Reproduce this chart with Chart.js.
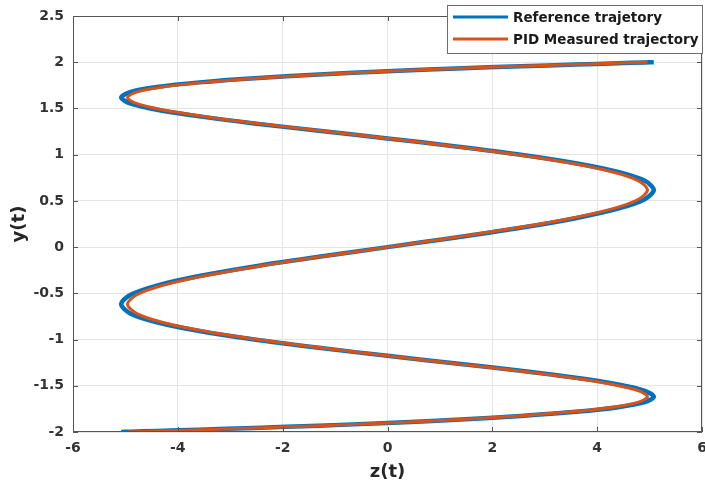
<!DOCTYPE html>
<html>
<head>
<meta charset="utf-8">
<script src="https://cdn.jsdelivr.net/npm/chart.js@4/dist/chart.umd.min.js"></script>
<style>
  html, body { margin: 0; padding: 0; background: #ffffff; }
  #wrap { width: 705px; height: 490px; }
</style>
</head>
<body>
<div id="wrap"><canvas id="c" width="705" height="490"></canvas></div>
<script>
// y(t) samples along the trajectory (shared by both series)
const yVals = [
  -2.000, -1.997, -1.989, -1.975, -1.956, -1.932, -1.902, -1.867, -1.827, -1.782,
  -1.732, -1.677, -1.618, -1.554, -1.486, -1.414, -1.338, -1.259, -1.176, -1.089,
  -1.000, -0.908, -0.813, -0.717, -0.618, -0.518, -0.416, -0.313, -0.209, -0.105,
   0.000,
   0.105,  0.209,  0.313,  0.416,  0.518,  0.618,  0.717,  0.813,  0.908,  1.000,
   1.089,  1.176,  1.259,  1.338,  1.414,  1.486,  1.554,  1.618,  1.677,  1.732,
   1.782,  1.827,  1.867,  1.902,  1.932,  1.956,  1.975,  1.989,  1.997,  2.000
];

// z(t) of the reference trajectory
const zReference = [
  -5.08, -4.91, -4.40, -3.59, -2.54, -1.31,  0.00,  1.31,  2.54,  3.59,
   4.40,  4.91,  5.08,  4.91,  4.40,  3.59,  2.54,  1.31,  0.00, -1.31,
  -2.54, -3.59, -4.40, -4.91, -5.08, -4.91, -4.40, -3.59, -2.54, -1.31,
   0.00,
   1.31,  2.54,  3.59,  4.40,  4.91,  5.08,  4.91,  4.40,  3.59,  2.54,
   1.31,  0.00, -1.31, -2.54, -3.59, -4.40, -4.91, -5.08, -4.91, -4.40,
  -3.59, -2.54, -1.31,  0.00,  1.31,  2.54,  3.59,  4.40,  4.91,  5.08
];

// z(t) measured with the PID controller
const zPid = [
  -4.96, -4.79, -4.30, -3.51, -2.48, -1.28,  0.00,  1.28,  2.48,  3.51,
   4.30,  4.79,  4.96,  4.79,  4.30,  3.51,  2.48,  1.28,  0.00, -1.28,
  -2.48, -3.51, -4.30, -4.79, -4.96, -4.79, -4.30, -3.51, -2.48, -1.28,
   0.00,
   1.28,  2.48,  3.51,  4.30,  4.79,  4.96,  4.79,  4.30,  3.51,  2.48,
   1.28,  0.00, -1.28, -2.48, -3.51, -4.30, -4.79, -4.96, -4.79, -4.30,
  -3.51, -2.48, -1.28,  0.00,  1.28,  2.48,  3.51,  4.30,  4.79,  4.96
];

const seriesNames = ['Reference trajetory', 'PID Measured trajectory'];
const seriesColors = ['#0072BD', '#D95319'];

const xTicks = [-6, -4, -2, 0, 2, 4, 6];
const yTicks = [-2, -1.5, -1, -0.5, 0, 0.5, 1, 1.5, 2, 2.5];
const yTickLabels = ['-2', '-1.5', '-1', '-0.5', '0', '0.5', '1', '1.5', '2', '2.5'];
const xTickLabels = ['-6', '-4', '-2', '0', '2', '4', '6'];

const FONT = '"DejaVu Sans", Verdana, sans-serif';
const AXIS_COLOR = '#555555';

function toPoints(zs, ys) {
  return zs.map((z, i) => ({ x: z, y: ys[i] }));
}

// MATLAB-style box with inward tick marks on all four sides
const boxPlugin = {
  id: 'axesBox',
  afterDatasetsDraw(chart) {
    const { ctx, chartArea: a, scales: { x, y } } = chart;
    ctx.save();
    ctx.strokeStyle = AXIS_COLOR;
    ctx.lineWidth = 1;
    ctx.strokeRect(Math.round(a.left) + 0.5, Math.round(a.top) + 0.5,
                   Math.round(a.right - a.left) - 1, Math.round(a.bottom - a.top) - 1);
    const len = 5;
    ctx.beginPath();
    xTicks.forEach(v => {
      const px = Math.round(x.getPixelForValue(v)) + 0.5;
      ctx.moveTo(px, a.bottom); ctx.lineTo(px, a.bottom - len);
      ctx.moveTo(px, a.top); ctx.lineTo(px, a.top + len);
    });
    yTicks.forEach(v => {
      const py = Math.round(y.getPixelForValue(v)) + 0.5;
      ctx.moveTo(a.left, py); ctx.lineTo(a.left + len, py);
      ctx.moveTo(a.right, py); ctx.lineTo(a.right - len, py);
    });
    ctx.stroke();
    ctx.restore();
  }
};

// Boxed legend in the upper right corner
const legendPlugin = {
  id: 'boxLegend',
  afterDraw(chart) {
    const { ctx } = chart;
    const bx = 447.5, by = 5.5, bw = 255, bh = 48;
    ctx.save();
    ctx.fillStyle = '#ffffff';
    ctx.fillRect(bx, by, bw, bh);
    ctx.strokeStyle = '#6e6e6e';
    ctx.lineWidth = 1;
    ctx.strokeRect(bx, by, bw, bh);
    const rows = [17, 39];
    ctx.font = 'bold 13.5px ' + FONT;
    ctx.textBaseline = 'middle';
    ctx.textAlign = 'left';
    seriesNames.forEach((name, i) => {
      ctx.strokeStyle = seriesColors[i];
      ctx.lineWidth = 3;
      ctx.beginPath();
      ctx.moveTo(453, rows[i]);
      ctx.lineTo(508, rows[i]);
      ctx.stroke();
      ctx.fillStyle = '#1a1a1a';
      ctx.fillText(name, 513, rows[i] + 1.5);
    });
    ctx.restore();
  }
};

new Chart(document.getElementById('c'), {
  type: 'scatter',
  data: {
    datasets: [
      {
        label: seriesNames[0],
        data: toPoints(zReference, yVals),
        showLine: true,
        borderColor: seriesColors[0],
        backgroundColor: seriesColors[0],
        borderWidth: 4.5,
        pointRadius: 0,
        tension: 0.3,
        order: 1
      },
      {
        label: seriesNames[1],
        data: toPoints(zPid, yVals),
        showLine: true,
        borderColor: seriesColors[1],
        backgroundColor: seriesColors[1],
        borderWidth: 3,
        pointRadius: 0,
        tension: 0.3,
        order: 0
      }
    ]
  },
  options: {
    responsive: false,
    animation: false,
    layout: { padding: { top: 16, right: 3, left: 0, bottom: 0 } },
    plugins: {
      legend: { display: false },
      tooltip: { enabled: false }
    },
    scales: {
      x: {
        type: 'linear',
        min: -6,
        max: 6,
        afterBuildTicks: s => { s.ticks = xTicks.map(v => ({ value: v })); },
        afterFit: s => { s.height = 58; s.paddingLeft = 0; s.paddingRight = 0; },
        ticks: {
          padding: 8,
          maxRotation: 0,
          color: '#333333',
          font: { family: FONT, size: 14, weight: 'bold' },
          callback: (v) => xTickLabels[xTicks.indexOf(v)]
        },
        grid: { color: '#e4e4e4', drawTicks: false },
        border: { display: false },
        title: {
          display: true,
          text: 'z(t)',
          color: '#262626',
          font: { family: FONT, size: 18, weight: 'bold' },
          padding: { top: 0, bottom: 7 }
        }
      },
      y: {
        type: 'linear',
        min: -2,
        max: 2.5,
        afterBuildTicks: s => { s.ticks = yTicks.map(v => ({ value: v })); },
        afterFit: s => { s.width = 73; s.paddingTop = 0; s.paddingBottom = 0; },
        ticks: {
          padding: 9,
          color: '#333333',
          font: { family: FONT, size: 14, weight: 'bold' },
          callback: (v) => yTickLabels[yTicks.indexOf(v)]
        },
        grid: { color: '#e4e4e4', drawTicks: false },
        border: { display: false },
        title: {
          display: true,
          text: 'y(t)',
          color: '#262626',
          font: { family: FONT, size: 18, weight: 'bold' },
          padding: { top: 9, bottom: 0 }
        }
      }
    }
  },
  plugins: [boxPlugin, legendPlugin]
});
</script>
</body>
</html>
